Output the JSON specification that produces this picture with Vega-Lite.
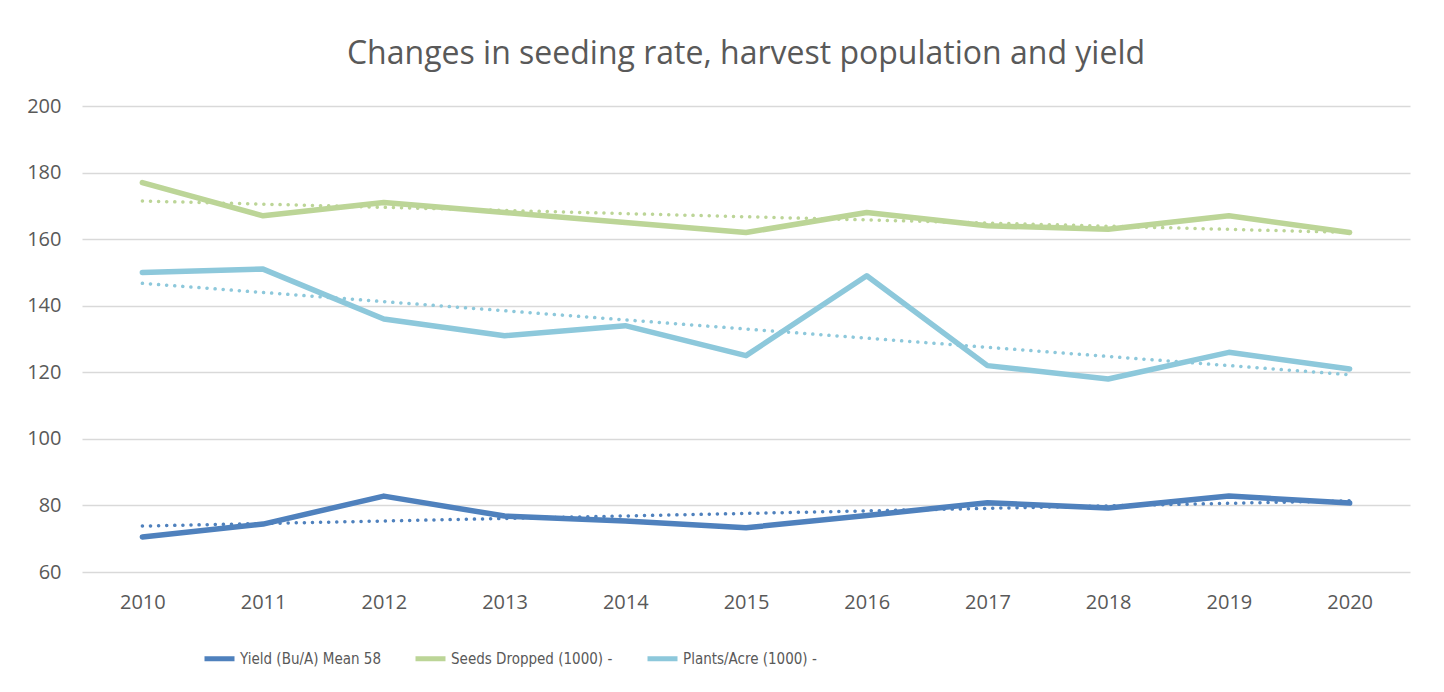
{
  "$schema": "https://vega.github.io/schema/vega-lite/v6.json",
  "width": 1328,
  "height": 466,
  "autosize": {"type": "none"},
  "padding": {"left": 82, "top": 106, "right": 34, "bottom": 120},
  "background": "white",
  "title": {
    "text": "Changes in seeding rate, harvest population and yield",
    "font": "Open Sans",
    "fontSize": 32,
    "fontWeight": "normal",
    "color": "#595959",
    "anchor": "middle",
    "offset": 25
  },
  "config": {
    "view": {"stroke": null},
    "font": "Open Sans"
  },
  "data": {
    "values": [
      {"year": 2010, "series": "Yield (Bu/A) Mean 58", "value": 70.5},
      {"year": 2011, "series": "Yield (Bu/A) Mean 58", "value": 74.4},
      {"year": 2012, "series": "Yield (Bu/A) Mean 58", "value": 82.8},
      {"year": 2013, "series": "Yield (Bu/A) Mean 58", "value": 76.8},
      {"year": 2014, "series": "Yield (Bu/A) Mean 58", "value": 75.3},
      {"year": 2015, "series": "Yield (Bu/A) Mean 58", "value": 73.3},
      {"year": 2016, "series": "Yield (Bu/A) Mean 58", "value": 77.0},
      {"year": 2017, "series": "Yield (Bu/A) Mean 58", "value": 80.8},
      {"year": 2018, "series": "Yield (Bu/A) Mean 58", "value": 79.2},
      {"year": 2019, "series": "Yield (Bu/A) Mean 58", "value": 82.8},
      {"year": 2020, "series": "Yield (Bu/A) Mean 58", "value": 80.7},
      {"year": 2010, "series": "Seeds Dropped (1000) -", "value": 177},
      {"year": 2011, "series": "Seeds Dropped (1000) -", "value": 167},
      {"year": 2012, "series": "Seeds Dropped (1000) -", "value": 171},
      {"year": 2013, "series": "Seeds Dropped (1000) -", "value": 168},
      {"year": 2014, "series": "Seeds Dropped (1000) -", "value": 165},
      {"year": 2015, "series": "Seeds Dropped (1000) -", "value": 162},
      {"year": 2016, "series": "Seeds Dropped (1000) -", "value": 168},
      {"year": 2017, "series": "Seeds Dropped (1000) -", "value": 164},
      {"year": 2018, "series": "Seeds Dropped (1000) -", "value": 163},
      {"year": 2019, "series": "Seeds Dropped (1000) -", "value": 167},
      {"year": 2020, "series": "Seeds Dropped (1000) -", "value": 162},
      {"year": 2010, "series": "Plants/Acre (1000) -", "value": 150},
      {"year": 2011, "series": "Plants/Acre (1000) -", "value": 151},
      {"year": 2012, "series": "Plants/Acre (1000) -", "value": 136},
      {"year": 2013, "series": "Plants/Acre (1000) -", "value": 131},
      {"year": 2014, "series": "Plants/Acre (1000) -", "value": 134},
      {"year": 2015, "series": "Plants/Acre (1000) -", "value": 125},
      {"year": 2016, "series": "Plants/Acre (1000) -", "value": 149},
      {"year": 2017, "series": "Plants/Acre (1000) -", "value": 122},
      {"year": 2018, "series": "Plants/Acre (1000) -", "value": 118},
      {"year": 2019, "series": "Plants/Acre (1000) -", "value": 126},
      {"year": 2020, "series": "Plants/Acre (1000) -", "value": 121}
    ]
  },
  "encoding": {
    "x": {
      "field": "year",
      "type": "quantitative",
      "scale": {"domain": [2009.5, 2020.5], "nice": false, "zero": false},
      "axis": {
        "title": null,
        "values": [2010, 2011, 2012, 2013, 2014, 2015, 2016, 2017, 2018, 2019, 2020],
        "format": "d",
        "grid": false,
        "ticks": false,
        "domain": false,
        "labelFontSize": 20,
        "labelColor": "#595959",
        "labelPadding": 20
      }
    },
    "y": {
      "field": "value",
      "type": "quantitative",
      "scale": {"domain": [60, 200], "nice": false, "zero": false},
      "axis": {
        "title": null,
        "values": [60, 80, 100, 120, 140, 160, 180, 200],
        "grid": true,
        "gridColor": "#d9d9d9",
        "gridWidth": 1.5,
        "ticks": false,
        "domain": false,
        "labelFontSize": 20,
        "labelColor": "#595959",
        "labelPadding": 21
      }
    },
    "color": {
      "field": "series",
      "type": "nominal",
      "scale": {
        "domain": ["Yield (Bu/A) Mean 58", "Seeds Dropped (1000) -", "Plants/Acre (1000) -"],
        "range": ["#4F81BD", "#BCD597", "#8DC8DB"]
      },
      "legend": {
        "title": null,
        "orient": "none",
        "direction": "horizontal",
        "legendX": 120,
        "legendY": 535,
        "symbolType": "stroke",
        "symbolStrokeWidth": 5,
        "symbolDash": [1, 0],
        "symbolSize": 900,
        "labelFont": "'DejaVu Sans Condensed', Roboto, sans-serif",
        "labelFontSize": 15,
        "labelLimit": 400,
        "labelColor": "#595959",
        "labelOffset": 3,
        "columnPadding": 24
      }
    }
  },
  "layer": [
    {
      "mark": {"type": "line", "strokeWidth": 5.5, "strokeCap": "round", "strokeJoin": "round"}
    },
    {
      "transform": [
        {"regression": "value", "on": "year", "groupby": ["series"], "method": "linear", "extent": [2010, 2020]}
      ],
      "mark": {"type": "line", "strokeWidth": 3.5, "strokeDash": [0.1, 8], "strokeCap": "round"}
    }
  ]
}
